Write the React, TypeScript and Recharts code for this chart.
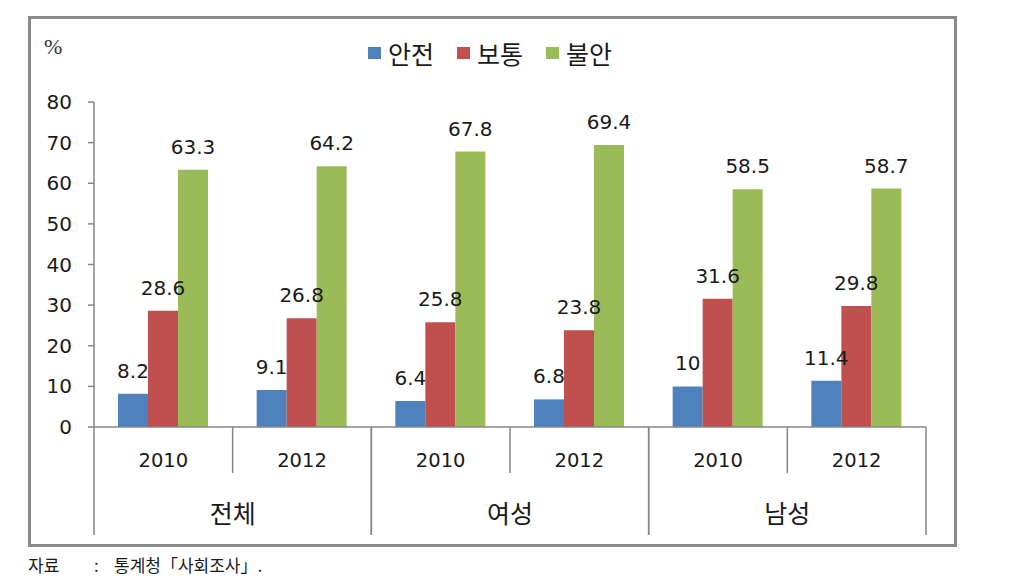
import { BarChart, Bar, XAxis, YAxis, Legend, LabelList } from 'recharts'

const years = ['2010', '2012', '2010', '2012', '2010', '2012']
const groups = ['전체', '전체', '여성', '여성', '남성', '남성']
const safe = [8.2, 9.1, 6.4, 6.8, 10, 11.4]
const normal = [28.6, 26.8, 25.8, 23.8, 31.6, 29.8]
const anxious = [63.3, 64.2, 67.8, 69.4, 58.5, 58.7]
const yTicks = [0, 10, 20, 30, 40, 50, 60, 70, 80]

const series = [
  { key: 'safe', name: '안전', color: '#4f81bd' },
  { key: 'normal', name: '보통', color: '#c0504d' },
  { key: 'anxious', name: '불안', color: '#9bbb59' },
]

const data = years.map((y, i) => ({
  year: y,
  group: groups[i],
  safe: safe[i],
  normal: normal[i],
  anxious: anxious[i],
}))

const NUM_FONT = '"DejaVu Sans", Verdana, sans-serif'
const KR_FONT = '"Noto Sans CJK KR", sans-serif'
const AXIS = '#868686'
const YEAR_ROW = 46
const GROUP_ROW = 108

function CategoryTick(props: any) {
  const { x, y, payload } = props
  const half = payload?.offset ?? 69
  const i = payload.index
  return (
    <g>
      <text x={x} y={y + 40} textAnchor="middle" fill="#1a1a1a" fontSize={19.5} fontFamily={NUM_FONT}>
        {payload.value}
      </text>
      {i % 2 === 0 && (
        <>
          <line x1={x + half} x2={x + half} y1={y} y2={y + YEAR_ROW} stroke={AXIS} strokeWidth={1.5} />
          <line x1={x - half} x2={x - half} y1={y} y2={y + GROUP_ROW} stroke={AXIS} strokeWidth={1.5} />
          <line x1={x + 3 * half} x2={x + 3 * half} y1={y} y2={y + GROUP_ROW} stroke={AXIS} strokeWidth={1.5} />
          <text x={x + half} y={y + 96} textAnchor="middle" fill="#1a1a1a" fontSize={25} fontFamily={KR_FONT}>
            {groups[i]}
          </text>
        </>
      )}
    </g>
  )
}

function LegendBox() {
  return (
    <div style={{ display: 'flex', alignItems: 'center', fontFamily: KR_FONT, fontSize: 25, color: '#1a1a1a', lineHeight: '30px' }}>
      {series.map(s => (
        <div key={s.key} style={{ display: 'flex', alignItems: 'center', marginRight: 23 }}>
          <span style={{ width: 13, height: 12, background: s.color, display: 'inline-block', marginRight: 7 }} />
          <span>{s.name}</span>
        </div>
      ))}
    </div>
  )
}

export default function App() {
  return (
    <div style={{ position: 'absolute', left: 0, top: 0, width: 1014, height: 582, background: '#fff' }}>
      <div style={{ position: 'absolute', left: 28, top: 16, width: 923, height: 525, border: '3px solid #8a8a8a' }} />
      <div style={{ position: 'absolute', left: 44, top: 34, fontFamily: '"Liberation Serif", serif', fontSize: 22, color: '#333' }}>%</div>
      <BarChart
        width={1014}
        height={582}
        data={data}
        barSize={30}
        barGap={0}
        margin={{ top: 102, left: 34, right: 88, bottom: 47 }}
        style={{ position: 'absolute', left: 0, top: 0 }}
      >
        <Legend
          verticalAlign="middle"
          align="center"
          content={<LegendBox />}
          wrapperStyle={{ top: 38, left: 368, width: 'auto', height: 'auto' }}
        />
        <XAxis
          dataKey="year"
          height={GROUP_ROW}
          tickSize={0}
          tickMargin={0}
          tickLine={false}
          stroke={AXIS}
          strokeWidth={1.5}
          interval={0}
          tick={<CategoryTick />}
        />
        <YAxis
          width={60}
          domain={[0, 80]}
          ticks={yTicks}
          interval={0}
          stroke={AXIS}
          strokeWidth={1.5}
          tickSize={6}
          tickMargin={16}
          tick={{ fill: '#1a1a1a', fontSize: 20, fontFamily: NUM_FONT }}
        />
        {series.map(s => (
          <Bar key={s.key} dataKey={s.key} name={s.name} fill={s.color} isAnimationActive={false}>
            <LabelList dataKey={s.key} position="top" offset={16} fill="#1a1a1a" fontSize={20} fontFamily={NUM_FONT} />
          </Bar>
        ))}
      </BarChart>
      <div style={{ position: 'absolute', top: 552, left: 28, fontFamily: KR_FONT, fontSize: 17, color: '#1a1a1a', whiteSpace: 'nowrap' }}>
        <span style={{ position: 'absolute', left: 0 }}>자료</span>
        <span style={{ position: 'absolute', left: 66 }}>:</span>
        <span style={{ position: 'absolute', left: 86 }}>통계청「사회조사」.</span>
      </div>
    </div>
  )
}
